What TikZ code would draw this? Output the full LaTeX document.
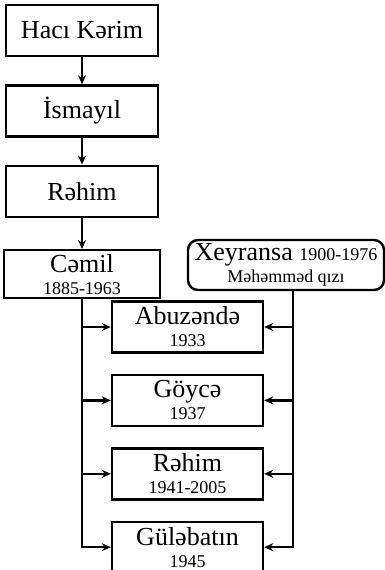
\documentclass[tikz,border=0pt]{standalone}
\usepackage{fontspec}
\setmainfont{Liberation Serif}
\usetikzlibrary{arrows.meta, positioning}
\newcommand{\yearfont}{\fontsize{18}{22}\selectfont}
\newcommand{\fathername}{\fontsize{18}{22}\selectfont}

\begin{document}
\begin{tikzpicture}[
    node distance=27pt,
    box/.style={draw, line width=2.4pt, minimum width=152pt, minimum height=51pt,
                inner sep=2pt, align=center, font=\fontsize{26}{22}\selectfont},
    kid/.style={box, minimum width=151pt},
    arr/.style={-{Stealth[length=9pt,width=8pt]}, line width=2.4pt}
  ]
  \useasboundingbox (0,0) rectangle (385pt,-570pt);
  % line of the fathers
  \node[box] (hk) at (82pt,-30.5pt) {Hacı Kərim};
  \node[box, below=of hk] (ism) {İsmayıl};
  \node[box, below=of ism] (rah) {Rəhim};
  \node[box, minimum width=156pt, minimum height=48pt, below=31pt of rah]
    (cam) {Cəmil\\{\yearfont 1885-1963}};
  \node[box, rounded corners=10pt, minimum width=196pt, minimum height=50pt]
    (xey) at (286pt,-265pt) {Xeyransa {\yearfont 1900-1976}\\{\fathername Məhəmməd qızı}};
  % children
  \node[kid] (abu) at (187.5pt,-327pt) {Abuzəndə\\{\yearfont 1933}};
  \node[kid, below=20pt of abu] (goy) {Göycə\\{\yearfont 1937}};
  \node[kid, below=20pt of goy] (rah2) {Rəhim\\{\yearfont 1941-2005}};
  \node[kid, below=20pt of rah2] (gul) {Güləbatın\\{\yearfont 1945}};
  \draw[arr] (hk) -- (ism);
  \draw[arr] (ism) -- (rah);
  \draw[arr] (rah) -- (cam);
  % from the father
  \draw[arr] (cam.south) |- (gul.west);
  \foreach \k in {abu, goy, rah2}
    \draw[arr] (cam.south |- \k.west) -- (\k.west);
  % from the mother
  \coordinate (xs) at ([xshift=7pt]xey.south);
  \draw[arr] (xs) |- (gul.east);
  \foreach \k in {abu, goy, rah2}
    \draw[arr] (xs |- \k.east) -- (\k.east);
\end{tikzpicture}
\end{document}
